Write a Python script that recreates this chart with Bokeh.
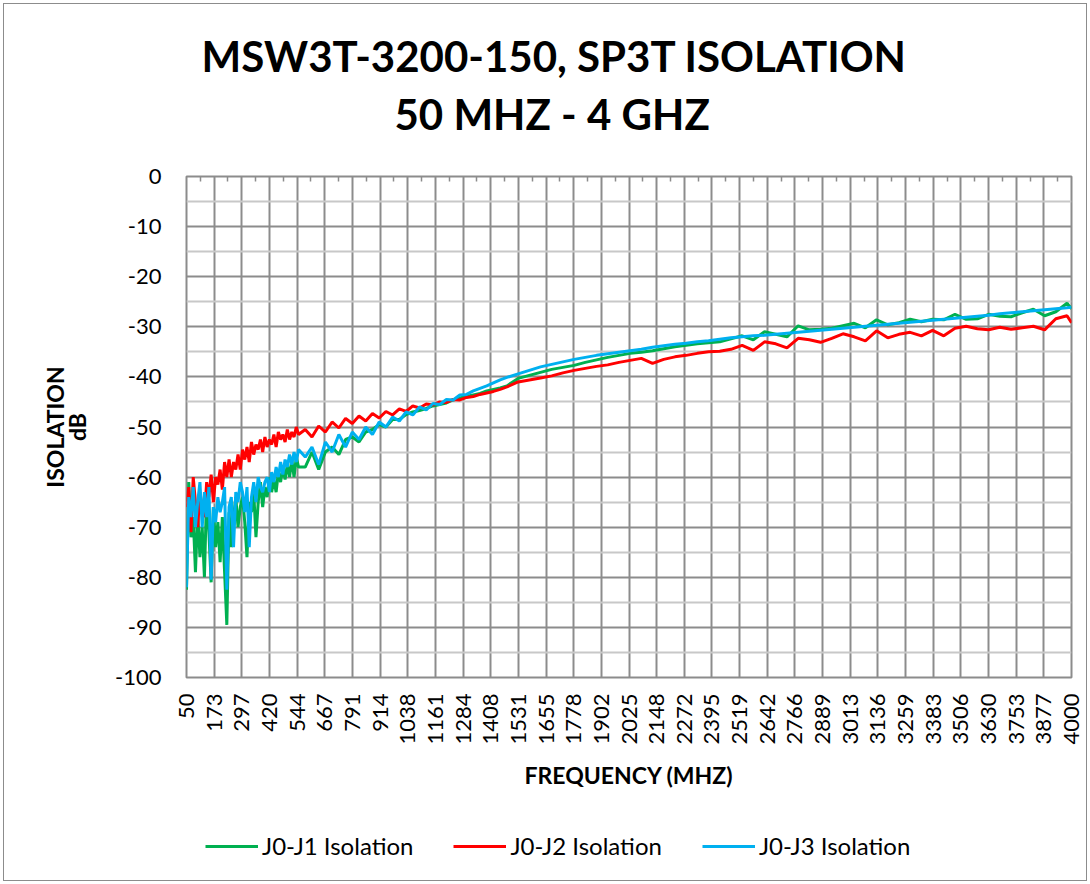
import numpy as np
from bokeh.plotting import figure
from bokeh.layouts import column
from bokeh.models import (Range1d, FixedTicker, LinearAxis, Title, Legend, LegendItem)
from bokeh.embed import file_html
from bokeh.resources import INLINE

# ---------------- data ----------------
freq_mhz = [
    50, 60, 70, 80, 90, 100, 110, 120, 130, 140, 150, 160, 170, 180, 190, 200,
    210, 220, 230, 240, 250, 260, 270, 280, 290, 300, 310, 320, 330, 340, 350,
    360, 370, 380, 390, 400, 410, 420, 430, 440, 450, 460, 470, 480, 490, 500,
    510, 520, 530, 540, 550,
    580, 610, 640, 670, 700, 730, 760, 790, 820, 850, 880, 910, 940, 970, 1000,
    1030, 1060, 1090, 1120, 1150, 1180, 1210, 1240, 1270, 1300, 1330, 1360,
    1390, 1420, 1450, 1480,
    1530, 1580, 1630, 1680, 1730, 1780, 1830, 1880, 1930, 1980, 2030, 2080,
    2130, 2180, 2230, 2280, 2330, 2380, 2430, 2480, 2530, 2580, 2630, 2680,
    2730, 2780, 2830, 2880, 2930, 2980, 3030, 3080, 3130, 3180, 3230, 3280,
    3330, 3380, 3430, 3480, 3530, 3580, 3630, 3680, 3730, 3780, 3830, 3880,
    3930, 3980, 4000,
]

j0_j1_isolation = [
    -82.5, -61, -72, -68, -79, -67, -76, -70, -80, -63, -71, -81, -66, -74, -69,
    -77, -68, -79, -89.5, -67, -74, -68, -64, -70, -66, -64, -69, -76, -65, -67,
    -63, -72, -65, -61, -66, -62, -64, -60, -63, -60.5, -63, -59, -61, -58,
    -60.5, -57.5, -60, -56.5, -60, -56, -58,
    -58, -55, -58.5, -55, -54, -55.5, -52.5, -52, -53, -51, -50.5, -49.5, -50,
    -48.5, -48.5, -47.5, -47, -46.7, -46.3, -45.8, -45.5, -45.2, -44.6, -44.2,
    -43.9, -43.6, -43.3, -42.8, -42.5, -42.2, -41.8,
    -40.3, -39.7, -39.1, -38.5, -38.1, -37.7, -37.1, -36.6, -36.1, -35.7, -35.3,
    -35.1, -34.8, -34.4, -34.0, -33.7, -33.4, -33.2, -33.0, -32.4, -31.8, -32.6,
    -31.0, -31.5, -32.0, -29.8, -30.6, -30.5, -30.3, -29.8, -29.3, -30.2, -28.6,
    -29.6, -29.2, -28.5, -29.0, -28.5, -28.6, -27.5, -28.5, -28.4, -27.5, -27.9,
    -28.0, -27.2, -26.5, -27.8, -27.0, -25.3, -26.4,
]

j0_j2_isolation = [
    -66, -62, -71, -60, -65, -70, -63, -66, -68, -61, -64, -59.5, -65, -60, -61.5,
    -58.5, -62.5, -57, -60, -56.5, -60, -57, -58.5, -55.5, -58.5, -54.5, -56.5,
    -54, -57, -53, -55.5, -53.5, -54.5, -52.5, -55, -52, -54, -52.5, -53.5, -51.5,
    -54, -51, -52.5, -51.5, -53, -50.5, -52.5, -51, -52, -50, -51.5,
    -50.5, -52, -49.8, -51, -49, -50.2, -48.3, -49.3, -47.8, -48.8, -47.3,
    -48.2, -46.9, -47.6, -46.4, -46.9, -45.8, -46.2, -45.4, -45.6, -45, -45.1,
    -44.5, -44.6, -44.1, -43.9, -43.5, -43.2, -42.9, -42.5, -42.0,
    -41.0, -40.6, -40.2, -39.8, -39.2, -38.7, -38.3, -37.9, -37.6, -37.1, -36.7,
    -36.3, -37.3, -36.5, -36.0, -35.7, -35.3, -35.0, -34.9, -34.5, -33.7, -34.7,
    -33.0, -33.4, -34.2, -32.3, -32.6, -33.1, -32.3, -31.4, -32.0, -32.8, -30.8,
    -32.2, -31.5, -31.1, -31.8, -30.7, -31.8, -30.3, -29.9, -30.4, -30.6, -30.1,
    -30.5, -30.2, -29.9, -30.6, -28.4, -27.8, -29.2,
]

j0_j3_isolation = [
    -82, -64, -68, -62, -70, -65, -61, -70, -63, -68, -62, -80.5, -66, -69, -64,
    -67, -65, -62, -82.5, -66, -64, -74, -63, -65, -61, -63, -67, -62, -74, -64,
    -61, -65, -60, -62, -63, -61, -60, -63, -59, -61, -58, -60, -57, -59.5,
    -56.5, -58, -55.5, -57.5, -55, -57, -54.5,
    -56, -54, -57.5, -53, -55, -51.5, -54, -51, -52.5, -50, -51.5, -49, -50,
    -48, -48.8, -47, -47.6, -46, -46.6, -45.3, -45.5, -44.5, -44.6, -43.6,
    -43.5, -42.8, -42.3, -41.8, -41.2, -40.6, -40.1,
    -39.4, -38.7, -38.0, -37.5, -37.0, -36.5, -36.1, -35.7, -35.4, -35.1, -34.8,
    -34.5, -34.1, -33.8, -33.5, -33.3, -33.0, -32.8, -32.5, -32.2, -32.0, -31.8,
    -31.7, -31.5, -31.3, -31.1, -30.9, -30.7, -30.5, -30.3, -30.1, -29.9, -29.7,
    -29.5, -29.3, -29.1, -28.9, -28.7, -28.5, -28.3, -28.1, -27.9, -27.7, -27.4,
    -27.2, -27.0, -26.8, -26.6, -26.4, -26.2, -26.1,
]

series_names = ["J0-J1 Isolation", "J0-J2 Isolation", "J0-J3 Isolation"]
series_colors = ["#00B050", "#FF0000", "#00B0F0"]

x_tick_labels = [
    "50", "173", "297", "420", "544", "667", "791", "914", "1038", "1161",
    "1284", "1408", "1531", "1655", "1778", "1902", "2025", "2148", "2272",
    "2395", "2519", "2642", "2766", "2889", "3013", "3136", "3259", "3383",
    "3506", "3630", "3753", "3877", "4000",
]
y_tick_values = [-100, -90, -80, -70, -60, -50, -40, -30, -20, -10, 0]
y_tick_labels = ["-100", "-90", "-80", "-70", "-60", "-50", "-40", "-30",
                 "-20", "-10", "0"]
y_minor_values = [-95, -85, -75, -65, -55, -45, -35, -25, -15, -5]

title_lines = ["MSW3T-3200-150, SP3T ISOLATION", "50 MHZ - 4 GHZ"]
x_title = "FREQUENCY (MHZ)"
y_title = "ISOLATION\ndB"

# ---------------- figure ----------------
FONT = "Lato"
GRID = "#8c8c8c"
MINOR = "#c8c8c8"

W = 1082
H_MAIN, H_LEG = 790, 86
p = figure(width=W, height=H_MAIN, x_range=Range1d(50, 4000),
           y_range=Range1d(-100, 0), output_backend="svg", toolbar_location=None,
           min_border_left=182, min_border_right=15, min_border_top=172,
           min_border_bottom=117)
p.outline_line_color = GRID
p.outline_line_width = 2
p.background_fill_color = "white"
p.border_fill_color = "white"

tick_pos = [float(t) for t in np.linspace(50, 4000, len(x_tick_labels))]
xax = p.xaxis[0]
xax.ticker = FixedTicker(ticks=tick_pos, minor_ticks=[])
xax.major_label_overrides = {t: lab for t, lab in zip(tick_pos, x_tick_labels)}
xax.major_label_orientation = np.pi / 2
xax.major_label_text_font = FONT
xax.major_label_text_font_size = "22px"
xax.major_label_text_color = "#000000"
xax.major_label_standoff = 16
xax.axis_line_color = None
xax.major_tick_in = 0
xax.major_tick_out = 0
xax.minor_tick_in = 0
xax.minor_tick_out = 0
xax.axis_label = x_title
xax.axis_label_text_font = FONT
xax.axis_label_text_font_style = "bold"
xax.axis_label_text_font_size = "23px"
xax.axis_label_text_color = "#000000"
xax.axis_label_standoff = 13

yax = p.yaxis[0]
yax.ticker = FixedTicker(ticks=[float(v) for v in y_tick_values],
                         minor_ticks=[float(v) for v in y_minor_values])
yax.major_label_overrides = {float(v): s for v, s in zip(y_tick_values, y_tick_labels)}
yax.major_label_text_font = FONT
yax.major_label_text_font_size = "22px"
yax.major_label_text_color = "#000000"
yax.major_label_standoff = 25
yax.axis_line_color = None
yax.major_tick_in = 0
yax.major_tick_out = 0
yax.minor_tick_in = 0
yax.minor_tick_out = 0
yax.axis_label = y_title
yax.axis_label_text_font = FONT
yax.axis_label_text_font_style = "bold"
yax.axis_label_text_font_size = "23px"
yax.axis_label_text_line_height = 0.8
yax.axis_label_text_color = "#000000"
yax.axis_label_standoff = 21

p.xgrid.grid_line_color = GRID
p.xgrid.grid_line_width = 2
p.ygrid.grid_line_color = GRID
p.ygrid.grid_line_width = 2
p.ygrid.minor_grid_line_color = MINOR
p.ygrid.minor_grid_line_width = 2

# small inward tick marks along the top edge, between category gridlines
mid_pos = [(a + b) / 2 for a, b in zip(tick_pos[:-1], tick_pos[1:])]
top_axis = LinearAxis(ticker=FixedTicker(ticks=mid_pos, minor_ticks=[]),
                      major_label_text_color=None, major_label_text_font_size="0px",
                      major_label_standoff=0,
                      axis_line_color=None, major_tick_in=5, major_tick_out=0,
                      major_tick_line_color=GRID, major_tick_line_width=1.5,
                      minor_tick_in=0, minor_tick_out=0)
p.add_layout(top_axis, "above")

# invisible spacer between the frame and the two-line title
spacer_axis = LinearAxis(ticker=FixedTicker(ticks=mid_pos, minor_ticks=[]),
                         major_label_text_color=None,
                         major_label_text_font_size="0px", major_label_standoff=0,
                         axis_line_color=None, major_tick_in=0, major_tick_out=32,
                         major_tick_line_color=None, minor_tick_in=0,
                         minor_tick_out=0)
p.add_layout(spacer_axis, "above")

# title (second line added first so it sits nearest the frame)
p.add_layout(Title(text=title_lines[1], align="left", offset=208,
                   text_font=FONT, text_font_style="bold", text_font_size="42px",
                   text_color="#000000", standoff=12), "above")
p.add_layout(Title(text=title_lines[0], align="left", offset=15,
                   text_font=FONT, text_font_style="bold", text_font_size="42px",
                   text_color="#000000", standoff=0), "above")

series = [j0_j1_isolation, j0_j2_isolation, j0_j3_isolation]
for vals, col in zip(series, series_colors):
    p.line(freq_mhz, vals, line_color=col, line_width=3)

# ---------------- legend strip (separate canvas below the chart) ----------------
pl = figure(width=W, height=H_LEG, x_range=Range1d(5000, 6000), y_range=Range1d(0, 1),
            output_backend="svg", toolbar_location=None,
            x_axis_location=None, y_axis_location=None, min_border=0)
pl.grid.visible = False
pl.outline_line_color = None
pl.background_fill_color = "white"
pl.border_fill_color = "white"
items = []
for name, vals, col in zip(series_names, series, series_colors):
    r = pl.line(freq_mhz, vals, line_color=col, line_width=3)
    items.append(LegendItem(label=name, renderers=[r]))
legend = Legend(items=items, orientation="horizontal", location=(19, 20),
                glyph_width=53, glyph_height=20, label_standoff=4, spacing=40,
                padding=0, margin=0, border_line_color=None,
                background_fill_alpha=0, label_text_font=FONT,
                label_text_font_size="24px", label_text_color="#000000",
                label_height=20)
pl.add_layout(legend, "center")

layout = column(p, pl, spacing=0)
layout.styles = {"border": "1px solid #8c8c8c", "margin-left": "3px",
                 "margin-top": "3px"}

open("out.html", "w").write(file_html(layout, INLINE))
